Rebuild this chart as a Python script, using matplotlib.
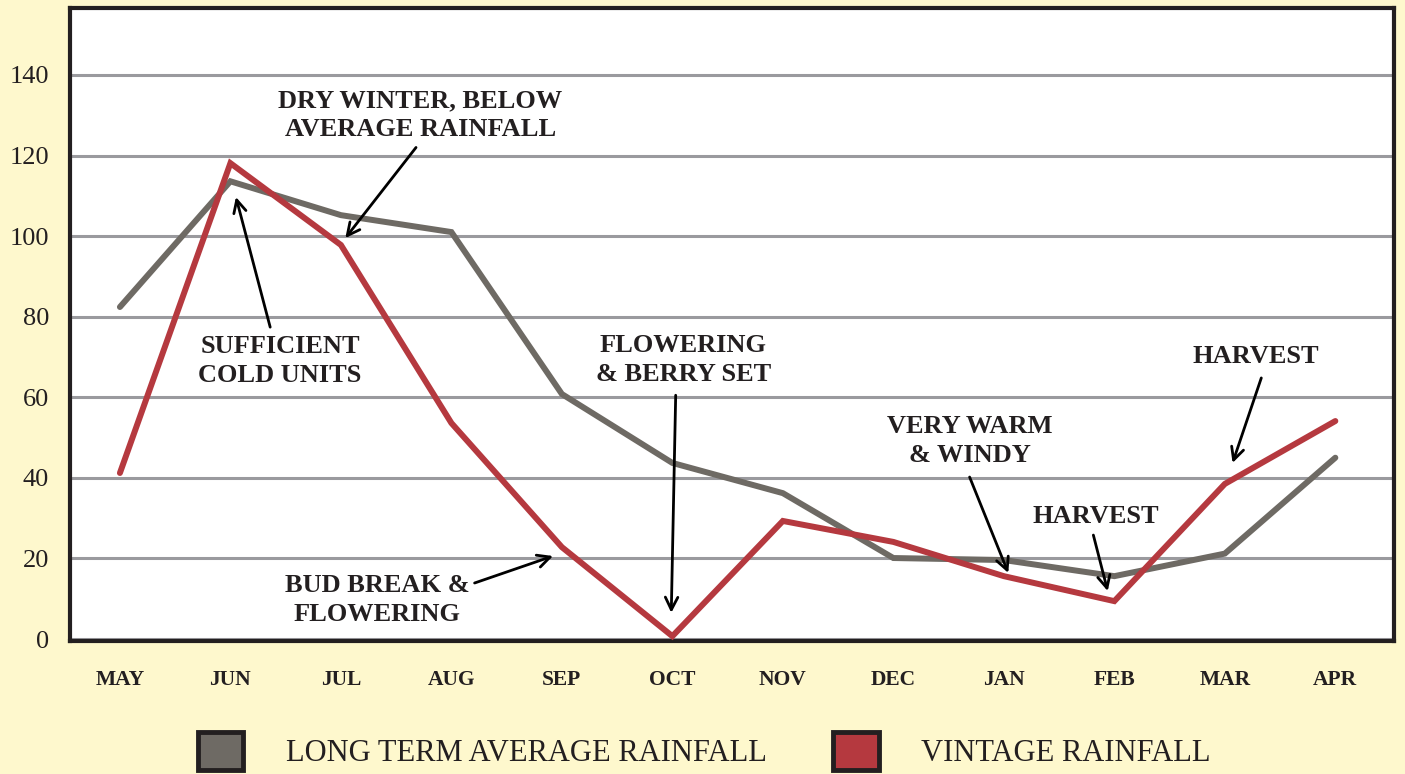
import matplotlib.pyplot as plt
from matplotlib.patches import Patch

# rainfall by month
months = ["MAY", "JUN", "JUL", "AUG", "SEP", "OCT", "NOV", "DEC", "JAN", "FEB", "MAR", "APR"]
long_term = [82.4, 113.6, 105.2, 101.0, 60.8, 43.7, 36.2, 20.1, 19.6, 15.6, 21.2, 45.0]
vintage = [41.2, 118.1, 97.8, 53.6, 22.8, 0.7, 29.3, 24.1, 15.6, 9.4, 38.5, 54.1]
y_ticks = [0, 20, 40, 60, 80, 100, 120, 140]

# annotations: text, text position, arrow tail, arrow head
notes = [
    ("DRY WINTER, BELOW\nAVERAGE RAINFALL", (2.72, 130.0), (2.68, 122.0), (2.04, 99.5)),
    ("SUFFICIENT\nCOLD UNITS", (1.45, 69.0), (1.36, 77.4), (1.05, 109.7)),
    ("FLOWERING\n& BERRY SET", (5.10, 69.2), (5.03, 60.5), (4.99, 6.5)),
    ("BUD BREAK &\nFLOWERING", (2.33, 9.7), (3.21, 13.9), (3.92, 20.6)),
    ("VERY WARM\n& WINDY", (7.69, 49.1), (7.69, 40.2), (8.04, 16.4)),
    ("HARVEST", (8.83, 30.3), (8.81, 25.8), (8.94, 11.9)),
    ("HARVEST", (10.28, 70.0), (10.33, 64.8), (10.07, 43.7)),
]

bg = "#FEF8CD"
gray = "#6E6A64"
red = "#B5393F"
ink = "#231F20"

plt.rcParams["font.family"] = ["Liberation Serif", "DejaVu Serif"]

fig = plt.figure(figsize=(14.05, 7.74), dpi=100, facecolor=bg)
ax = fig.add_axes([0.0498, 0.1718, 0.9423, 0.8178])
ax.set_facecolor("white")

x = list(range(len(months)))
ax.plot(x, long_term, color=gray, lw=4.3, solid_capstyle="round", solid_joinstyle="miter", zorder=3)
ax.plot(x, vintage, color=red, lw=4.3, solid_capstyle="round", solid_joinstyle="miter", zorder=4)

ax.set_xlim(-0.452, 11.53)
ax.set_ylim(-0.5, 156.6)
ax.set_yticks(y_ticks)
ax.set_xticks(x)
ax.set_xticklabels(months, fontsize=15.5, fontweight="bold", color=ink)
ax.tick_params(axis="y", length=0, pad=15, labelsize=19, labelcolor=ink)
ax.tick_params(axis="x", length=0, pad=21)
ax.grid(axis="y", color="#9A9A9E", lw=2.2, zorder=1)
for s in ax.spines.values():
    s.set_color(ink)
    s.set_linewidth(3)

for text, tpos, tail, head in notes:
    ax.text(tpos[0], tpos[1], text, ha="center", va="center", fontsize=19,
            fontweight="bold", color=ink, linespacing=1.3, zorder=5)
    ax.annotate("", xy=head, xytext=tail,
                arrowprops=dict(arrowstyle="->,head_length=0.9,head_width=0.45",
                                color="black", lw=2.0, shrinkA=0, shrinkB=0),
                zorder=5)

handles = [Patch(facecolor=gray, edgecolor=ink, lw=3.5),
           Patch(facecolor=red, edgecolor=ink, lw=3.5)]
fig.legend(handles, ["LONG TERM AVERAGE RAINFALL", "VINTAGE RAINFALL"],
           loc="center left", bbox_to_anchor=(0.121, 0.03), ncol=2, frameon=False,
           handlelength=1.5, handleheight=1.55, handletextpad=1.4, columnspacing=2.15,
           prop={"size": 22, "family": ["Liberation Serif"]}, labelcolor=ink)

fig.savefig("out.png", dpi=100, facecolor=bg)
